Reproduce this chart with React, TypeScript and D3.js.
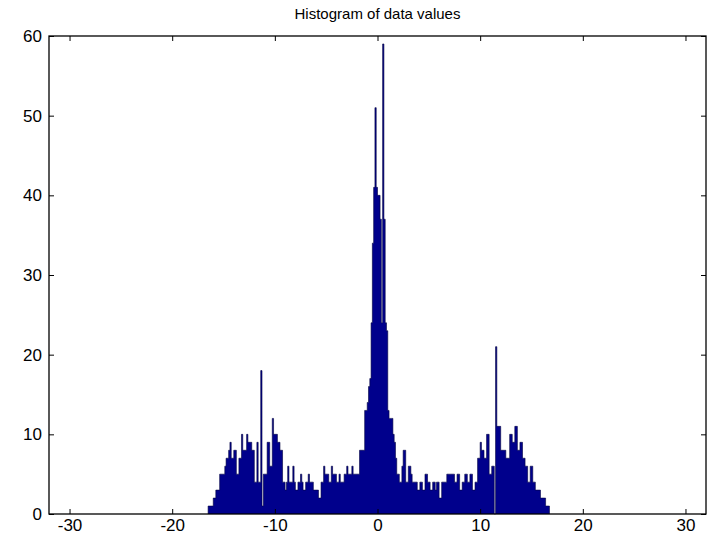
import React, { useEffect, useRef } from 'react';
import * as d3 from 'd3';

// histogram counts, bins of width 0.125 starting at -16.5
const binStart = -16.5;
const binWidth = 0.125;

// -16.5 .. -0.5
const countsLeft = [
  1, 1, 1, 1, 2, 2, 3, 3, 3, 5, 5, 5, 5, 6, 7, 7,
  8, 9, 7, 7, 8, 8, 5, 5, 7, 7, 10, 8, 8, 8, 10, 9,
  9, 9, 8, 8, 4, 4, 9, 4, 4, 18, 1, 5, 5, 5, 9, 9,
  6, 6, 12, 10, 10, 10, 9, 9, 8, 8, 4, 4, 3, 4, 6, 4,
  4, 4, 6, 4, 3, 3, 4, 4, 5, 4, 3, 3, 4, 4, 5, 4,
  4, 4, 3, 3, 3, 3, 2, 2, 4, 4, 6, 5, 5, 5, 4, 4,
  6, 5, 5, 5, 4, 4, 5, 4, 4, 4, 5, 5, 6, 5, 5, 5,
  6, 5, 5, 5, 5, 5, 8, 8, 8, 8, 13, 13, 14, 16, 17, 24,
];

// -0.5 .. 1.0
const countsPeak = [34, 41, 51, 41, 40, 40, 37, 24, 59, 37, 24, 23];

// 1.0 .. 16.75
const countsRight = [
  13, 12, 12, 12, 10, 9, 7, 5, 5, 4, 4, 6, 8, 8, 4, 4,
  6, 6, 5, 4, 4, 4, 4, 3, 3, 4, 4, 3, 3, 5, 5, 4,
  4, 3, 3, 4, 4, 3, 4, 4, 2, 2, 4, 4, 4, 4, 5, 5,
  5, 5, 5, 5, 4, 4, 5, 5, 3, 3, 4, 4, 5, 5, 4, 4,
  5, 5, 3, 3, 4, 4, 7, 7, 9, 8, 8, 7, 7, 10, 10, 5,
  5, 6, 6, 0, 21, 11, 11, 11, 8, 8, 8, 8, 7, 7, 7, 10,
  10, 9, 9, 11, 11, 8, 8, 9, 9, 7, 7, 6, 6, 4, 4, 6,
  6, 4, 4, 3, 3, 3, 3, 2, 2, 2, 2, 1, 1, 1,
];

const xTicks = [-30, -20, -10, 0, 10, 20, 30];
const yTicks = [0, 10, 20, 30, 40, 50, 60];
const title = 'Histogram of data values';

const W = 708;
const H = 541;
const font = '"Liberation Sans", Arial, sans-serif';

type Pt = { v: number; c: number };

export default function App() {
  const svgRef = useRef<SVGSVGElement>(null);

  useEffect(() => {
    if (!svgRef.current) return;
    const svg = d3.select(svgRef.current);
    svg.selectAll('*').remove();

    const left = 49, right = 706, top = 36, bottom = 514;

    const x = d3.scaleLinear().domain([-32, 32]).range([left, right]);
    const y = d3.scaleLinear().domain([0, 60]).range([bottom, top]);

    const counts = [...countsLeft, ...countsPeak, ...countsRight];
    // top profile of the bars, one flat step per bin
    const steps: Pt[] = [{ v: binStart, c: 0 }];
    counts.forEach((c, i) => {
      const x0 = binStart + i * binWidth;
      steps.push({ v: x0, c });
      steps.push({ v: x0 + binWidth, c });
    });
    steps.push({ v: binStart + counts.length * binWidth, c: 0 });

    svg.append('rect')
      .attr('width', W)
      .attr('height', H)
      .attr('fill', '#fff');

    const area = d3.area<Pt>()
      .x(d => x(d.v))
      .y0(y(0))
      .y1(d => y(d.c));

    const outline = d3.line<Pt>()
      .x(d => x(d.v))
      .y(d => y(d.c));

    svg.append('path')
      .datum(steps)
      .attr('d', area)
      .attr('fill', '#00008C');

    svg.append('path')
      .datum(steps)
      .attr('d', outline)
      .attr('fill', 'none')
      .attr('stroke', '#000040')
      .attr('stroke-width', 0.6);

    // axes, ticks pointing inward like matlab
    const styleAxis = (g: any) => {
      g.select('.domain').remove();
      g.selectAll('line').attr('stroke', '#000');
      g.selectAll('text')
        .attr('fill', '#000')
        .style('font-family', font)
        .style('font-size', '17px');
    };

    svg.append('g')
      .attr('transform', `translate(0,${bottom})`)
      .call(d3.axisBottom(x).tickValues(xTicks).tickSize(-5).tickPadding(5).tickFormat(d => String(d)))
      .call(styleAxis);

    svg.append('g')
      .attr('transform', `translate(0,${top})`)
      .call(d3.axisTop(x).tickValues(xTicks).tickSize(-5).tickFormat(() => ''))
      .call(styleAxis);

    svg.append('g')
      .attr('transform', `translate(${left},0)`)
      .call(d3.axisLeft(y).tickValues(yTicks).tickSize(-5).tickPadding(7).tickFormat(d => String(d)))
      .call(styleAxis);

    svg.append('g')
      .attr('transform', `translate(${right},0)`)
      .call(d3.axisRight(y).tickValues(yTicks).tickSize(-5).tickFormat(() => ''))
      .call(styleAxis);

    // box
    svg.append('rect')
      .attr('x', left)
      .attr('y', top)
      .attr('width', right - left)
      .attr('height', bottom - top)
      .attr('fill', 'none')
      .attr('stroke', '#000')
      .attr('stroke-width', 1.3);

    svg.append('text')
      .attr('x', (left + right) / 2)
      .attr('y', 19)
      .attr('text-anchor', 'middle')
      .style('font-family', font)
      .style('font-size', '15px')
      .attr('fill', '#000')
      .text(title);
  }, []);

  return (
    <svg
      ref={svgRef}
      width={W}
      height={H}
      style={{ position: 'absolute', left: 0, top: 0, display: 'block' }}
    />
  );
}
